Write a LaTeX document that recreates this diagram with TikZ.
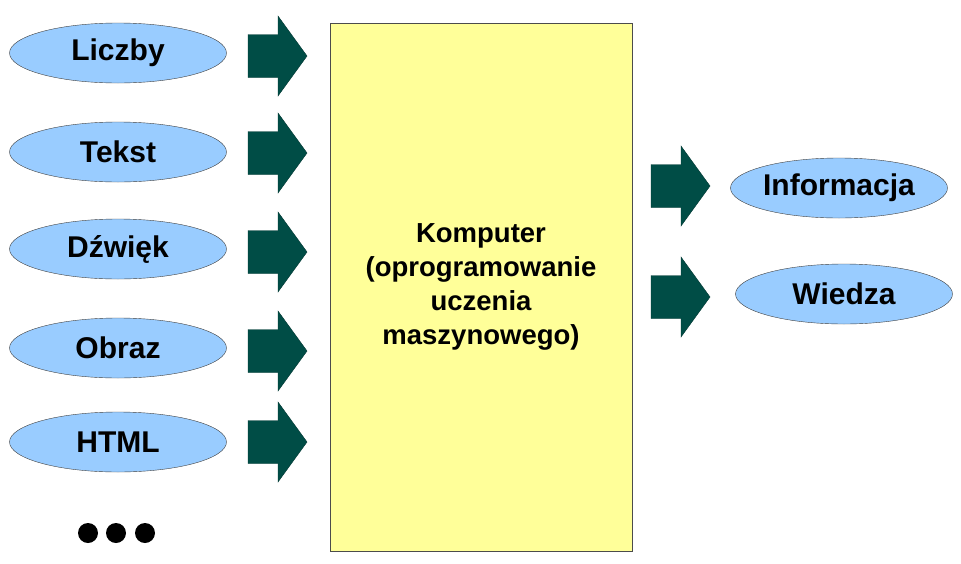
\documentclass[tikz,border=0pt]{standalone}
\usepackage{fontspec}
\setmainfont{Liberation Sans}
\definecolor{ovalblue}{RGB}{153,204,255}
\definecolor{boxyellow}{RGB}{255,255,153}
\definecolor{arrowgreen}{RGB}{0,77,70}
\tikzset{
  oval/.style={ellipse,draw=black!75,fill=ovalblue,minimum width=217pt,minimum height=60pt,
    inner sep=0pt,font=\fontsize{30}{34}\selectfont\bfseries},
  blockarrow/.pic={\filldraw[fill=arrowgreen,draw=arrowgreen!70!black]
    (-30,-21.5) -- (0,-21.5) -- (0,-40) -- (29,0) -- (0,40) -- (0,21.5) -- (-30,21.5) -- cycle;}
}
\usetikzlibrary{shapes.geometric}
\begin{document}
\begin{tikzpicture}[x=1pt,y=-1pt]
  \useasboundingbox (0,0) rectangle (961,563);
  % komputer
  \node[draw=black!70,fill=boxyellow,minimum width=302pt,minimum height=528pt,inner sep=0pt,
    align=center,font=\fontsize{27.5}{34}\selectfont\bfseries] (komp) at (481,287)
    {Komputer\\(oprogramowanie\\uczenia\\maszynowego)};
  % wejscie
  \node[oval] (liczby) at (118,53) {Liczby};
  \node[oval] (tekst) at (118,152) {Tekst};
  \node[oval] (dzwiek) at (118,249) {Dźwięk};
  \node[oval] (obraz) at (118,348) {Obraz};
  \node[oval] (html) at (118,442) {HTML};
  \pic at (278,56) {blockarrow};
  \pic at (278,153) {blockarrow};
  \pic at (278,252) {blockarrow};
  \pic at (278,351) {blockarrow};
  \pic at (278,442) {blockarrow};
  % wyjscie
  \pic at (681,186) {blockarrow};
  \pic at (681,297) {blockarrow};
  \node[oval] (info) at (839,188) {Informacja};
  \node[oval] (wiedza) at (844,294) {Wiedza};
  % kropki
  \fill (88,533) circle (10) (116,533) circle (10) (145,533) circle (10);
\end{tikzpicture}
\end{document}
